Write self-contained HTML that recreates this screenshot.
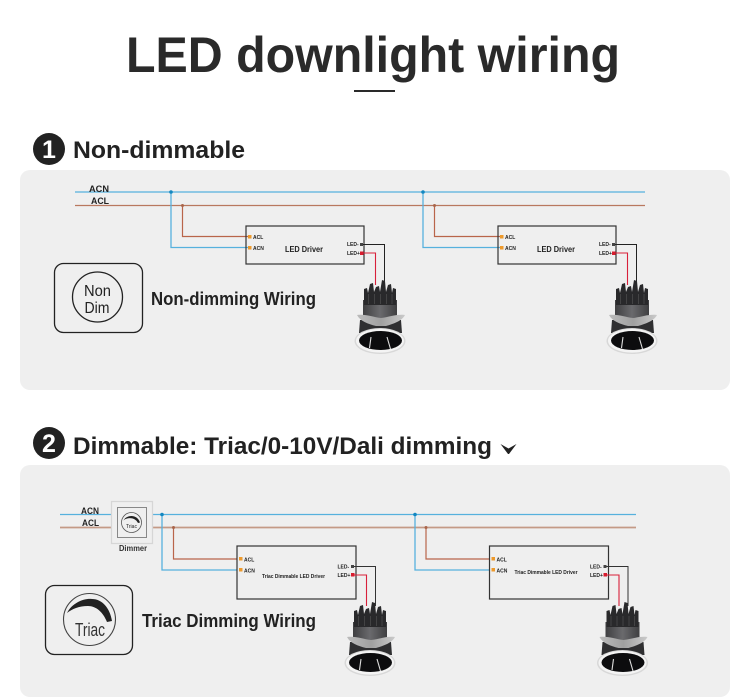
<!DOCTYPE html>
<html><head><meta charset="utf-8"><title>LED downlight wiring</title>
<style>
html,body{margin:0;padding:0;background:#fff}
svg{display:block}
text{font-family:"Liberation Sans",sans-serif;fill:#222}
.b{font-weight:bold}
</style></head><body>
<svg width="750" height="698" viewBox="0 0 750 698" xmlns="http://www.w3.org/2000/svg">
<defs>
<linearGradient id="hs" x1="0" x2="1" y1="0" y2="0"><stop offset="0" stop-color="#3f3f41"/><stop offset=".5" stop-color="#6a6a6d"/><stop offset="1" stop-color="#3f3f41"/></linearGradient>
<linearGradient id="fl" x1="0" x2="1" y1="0" y2="0"><stop offset="0" stop-color="#bcbcbc"/><stop offset=".5" stop-color="#a0a0a0"/><stop offset="1" stop-color="#cacaca"/></linearGradient>
<g id="lamp">
<path d="M363 300 H397 V318 H363 Z" fill="url(#hs)"/>
<path d="M364 305 V289 L367 288 L368 293 L370 284 L373 283 L374 292 L376 287 L379 286 L380 292 L382 280 L385 281 L386 292 L388 285 L391 284 L392 293 L393 288 L396 289 V305 Z" fill="#29292b"/>
<path d="M368.500 294V304M374.500 294V304M380.500 294V304M386.500 294V304M392 294V304" stroke="#555" stroke-width=".6"/>
<path d="M360 320 H401 L402 333 H359 Z" fill="#2f2f31"/>
<path d="M357 315 C366 314 372 317 381 318 C390 317 396 314 405 315 C402 321 393 324 386 326 L376 326 C368 324 360 321 357 315 Z" fill="url(#fl)"/>
<ellipse cx="380" cy="341" rx="25.500" ry="13" fill="#d8d8d8"/>
<ellipse cx="380" cy="340.800" rx="24" ry="11.800" fill="#f4f4f4"/>
<ellipse cx="380.500" cy="340.500" rx="21.500" ry="9.500" fill="#0c0c0e"/>
<path d="M371 337 L369.500 348 M387 337 L390.500 349" stroke="#ddd" stroke-width="1.100"/>
</g>
</defs>

<text x="373" y="72" text-anchor="middle" class="b" font-size="50" textLength="494" lengthAdjust="spacingAndGlyphs" style="fill:#2a2a2a">LED downlight wiring</text>
<rect x="354" y="90" width="41" height="2" fill="#2a2a2a"/>

<circle cx="49" cy="149" r="16" fill="#222"/>
<text x="49" y="158" text-anchor="middle" class="b" font-size="25" style="fill:#fff">1</text>
<text x="73" y="158" class="b" font-size="24" textLength="172" lengthAdjust="spacingAndGlyphs">Non-dimmable</text>

<rect x="20" y="170" width="710" height="220" rx="10" fill="#efefef"/>

<g fill="none">
<path d="M75 192H645" stroke="#56b1dd" stroke-width="1.300"/>
<path d="M75 205.500H645" stroke="#b9785f" stroke-width="1.200"/>
<path d="M171 192V247.500H248M423 192V247.500H500" stroke="#56b1dd" stroke-width="1.300"/>
<path d="M182.500 205.500V236.500H248M434.500 205.500V236.500H500" stroke="#b9654a" stroke-width="1.200"/>
<rect x="246" y="226" width="118" height="38" stroke="#333" stroke-width="1.200"/>
<rect x="498" y="226" width="118" height="38" stroke="#333" stroke-width="1.200"/>
<path d="M361 244.500H384.500V285M613 244.500H636.500V285" stroke="#222" stroke-width="1"/>
<path d="M361 253H375.500V285M613 253H627.500V285" stroke="#d8203a" stroke-width="1.100"/>
</g>
<g fill="#1387c0"><circle cx="171" cy="192" r="1.800"/><circle cx="423" cy="192" r="1.800"/></g>
<g fill="#a9654a"><circle cx="182.500" cy="205.500" r="1.500"/><circle cx="434.500" cy="205.500" r="1.500"/></g>
<g fill="#ed9a2c">
<rect x="248" y="235" width="3.500" height="3.500"/><rect x="248" y="246" width="3.500" height="3.500"/>
<rect x="500" y="235" width="3.500" height="3.500"/><rect x="500" y="246" width="3.500" height="3.500"/>
</g>
<g fill="#444"><rect x="360" y="243" width="3" height="3"/><rect x="612" y="243" width="3" height="3"/></g>
<g fill="#d81c2e"><rect x="360" y="251.500" width="3.500" height="3.500"/><rect x="612" y="251.500" width="3.500" height="3.500"/></g>

<text x="89" y="192" class="b" font-size="9.500" textLength="20" lengthAdjust="spacingAndGlyphs">ACN</text>
<text x="91" y="204" class="b" font-size="9.500" textLength="18" lengthAdjust="spacingAndGlyphs">ACL</text>
<g class="b" font-size="5">
<text x="253" y="239">ACL</text><text x="253" y="250">ACN</text>
<text x="505" y="239">ACL</text><text x="505" y="250">ACN</text>
<text x="347" y="246">LED-</text><text x="347" y="255">LED+</text>
<text x="599" y="246">LED-</text><text x="599" y="255">LED+</text>
</g>
<text x="285" y="252" class="b" font-size="8" textLength="38" lengthAdjust="spacingAndGlyphs">LED Driver</text>
<text x="537" y="252" class="b" font-size="8" textLength="38" lengthAdjust="spacingAndGlyphs">LED Driver</text>

<rect x="54.500" y="263.500" width="88" height="69" rx="9" fill="none" stroke="#222" stroke-width="1.300"/>
<circle cx="97.500" cy="297" r="25" fill="none" stroke="#222" stroke-width="1.300"/>
<text x="84" y="296" font-size="15.500" textLength="27" lengthAdjust="spacingAndGlyphs">Non</text>
<text x="84.500" y="313" font-size="15.500" textLength="25" lengthAdjust="spacingAndGlyphs">Dim</text>
<text x="151" y="305" class="b" font-size="18" textLength="165" lengthAdjust="spacingAndGlyphs">Non-dimming Wiring</text>

<use href="#lamp"/>
<use href="#lamp" x="252"/>

<circle cx="49" cy="443" r="16" fill="#222"/>
<text x="49" y="452" text-anchor="middle" class="b" font-size="25" style="fill:#fff">2</text>
<text x="73" y="454" class="b" font-size="24" textLength="419" lengthAdjust="spacingAndGlyphs">Dimmable: Triac/0-10V/Dali dimming</text>
<path d="M500.500 444 L508.500 448.500 L516.500 444 L509 454 L508 454 Z" fill="#222"/>

<rect x="20" y="465" width="710" height="232" rx="10" fill="#efefef"/>

<g fill="none">
<path d="M60 514.500H636" stroke="#56b1dd" stroke-width="1.200"/>
<path d="M60 527.500H636" stroke="#c49a86" stroke-width="1.800"/>
<path d="M162 514.500V570H237M415 514.500V570H490" stroke="#56b1dd" stroke-width="1.300"/>
<path d="M173.500 527.500V559H237M426 527.500V559H490" stroke="#b9654a" stroke-width="1.200"/>
<rect x="237" y="546" width="119" height="53" stroke="#333" stroke-width="1.200"/>
<rect x="489.500" y="546" width="119" height="53" stroke="#333" stroke-width="1.200"/>
<path d="M352 566.500H375.500V606M604.500 566.500H628V606" stroke="#333" stroke-width="1"/>
<path d="M352 575H366.500V606M604.500 575H619V606" stroke="#d8203a" stroke-width="1.100"/>
</g>
<g fill="#1387c0"><circle cx="162" cy="514.500" r="1.800"/><circle cx="415" cy="514.500" r="1.800"/></g>
<g fill="#a9654a"><circle cx="173.500" cy="527.500" r="1.500"/><circle cx="426" cy="527.500" r="1.500"/></g>
<g fill="#ed9a2c">
<rect x="239" y="557" width="3.500" height="3.500"/><rect x="239" y="568" width="3.500" height="3.500"/>
<rect x="491.500" y="557" width="3.500" height="3.500"/><rect x="491.500" y="568" width="3.500" height="3.500"/>
</g>
<g fill="#444"><rect x="351" y="565" width="3" height="3"/><rect x="603.500" y="565" width="3" height="3"/></g>
<g fill="#d81c2e"><rect x="351" y="573" width="3.500" height="3.500"/><rect x="603.500" y="573" width="3.500" height="3.500"/></g>

<rect x="111.500" y="501.500" width="41" height="42" fill="#efefef" stroke="#d6d6d6" stroke-width="1.300"/>
<rect x="117.500" y="507.500" width="29" height="30" fill="#efefef" stroke="#888" stroke-width="1"/>
<circle cx="131.500" cy="522.500" r="10" fill="none" stroke="#555" stroke-width=".8"/>
<path d="M123.500 520.500 C126 515 137 513.500 140 522.500 L138 523 C135 517 127 517 123.500 520.500 Z" fill="#222"/>
<text x="131.500" y="528" text-anchor="middle" font-size="5.500" textLength="11" lengthAdjust="spacingAndGlyphs">Triac</text>
<text x="81" y="514" class="b" font-size="9.500" textLength="18" lengthAdjust="spacingAndGlyphs">ACN</text>
<text x="82" y="526" class="b" font-size="9.500" textLength="17" lengthAdjust="spacingAndGlyphs">ACL</text>
<text x="119" y="551" font-size="8.500" class="b" textLength="28" lengthAdjust="spacingAndGlyphs" style="fill:#333">Dimmer</text>

<g class="b" font-size="5">
<text x="244" y="561.500">ACL</text><text x="244" y="572.500">ACN</text>
<text x="496.500" y="561.500">ACL</text><text x="496.500" y="572.500">ACN</text>
<text x="337.500" y="568.500">LED-</text><text x="337.500" y="577">LED+</text>
<text x="590" y="568.500">LED-</text><text x="590" y="577">LED+</text>
</g>
<text x="262" y="578" class="b" font-size="5.500" textLength="63" lengthAdjust="spacingAndGlyphs">Triac Dimmable LED Driver</text>
<text x="514.500" y="574" class="b" font-size="5.500" textLength="63" lengthAdjust="spacingAndGlyphs">Triac Dimmable LED Driver</text>

<rect x="45.500" y="585.500" width="87" height="69" rx="9" fill="none" stroke="#222" stroke-width="1.300"/>
<circle cx="89.500" cy="619.500" r="26" fill="none" stroke="#444" stroke-width="1.100"/>
<path d="M67 613 C72 603 84 598 92 599 C102 599 110 608 112 621 L107 622 C103 612 96 606 88 606 C79 606 72 609 67 613 Z" fill="#222"/>
<text x="75" y="636" font-size="18" textLength="30" lengthAdjust="spacingAndGlyphs" style="fill:#333">Triac</text>
<text x="142" y="627" class="b" font-size="18" textLength="174" lengthAdjust="spacingAndGlyphs">Triac Dimming Wiring</text>

<use href="#lamp" x="-10" y="322"/>
<use href="#lamp" x="242.500" y="322"/>
</svg>
</body></html>
